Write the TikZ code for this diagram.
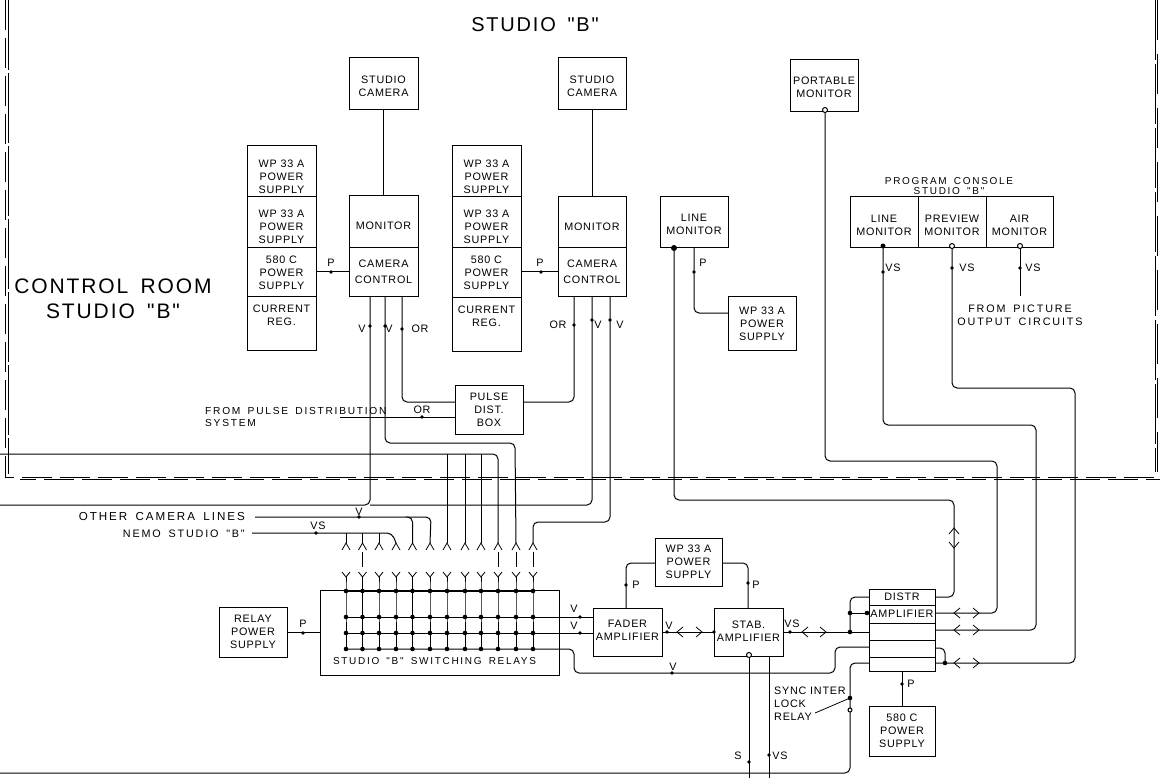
\documentclass[tikz,border=0pt]{standalone}
\usepackage{fontspec}
\usetikzlibrary{calc}
\setmainfont{Liberation Sans}[LetterSpace=7,Ligatures=TeXOff]
\newfontfamily\widefont{Liberation Sans}[LetterSpace=17,WordSpace=1.6,Ligatures=TeXOff]
\newfontfamily\bigfont{Liberation Sans}[LetterSpace=9,WordSpace=1.6,Ligatures=TeXOff]
\newcommand\bx[6]{\node[box,minimum width={#4-#2},minimum height={#5-#3}] (#1) at ({(#2+#4)/2},{(#3+#5)/2}) {#6};}
\newcommand\bxt[7]{\node[box,minimum width={#4-#2},minimum height={#5-#3}] (#1) at ({(#2+#4)/2},{(#3+#5)/2}) {};
  \node[lab,align=center] (#1t) at ([yshift=-#6pt]#1.center) {#7};}
\newcommand\mk[2]{\fill (#1,#2) circle (1.9);}
\newcommand\hplug[3]{\draw[thin wire] (#1+6,#3-5) -- (#1,#3) -- (#1+6,#3+5) (#2-6,#3-5) -- (#2,#3) -- (#2-6,#3+5);}
\newcommand\vplug[3]{\draw[thin wire] (#3-5,#1+6) -- (#3,#1) -- (#3+5,#1+6) (#3-5,#2-6) -- (#3,#2) -- (#3+5,#2-6);}
\tikzset{
  box/.style={draw,line width=1pt,inner sep=0pt,outer sep=0pt,align=center,font=\fontsize{10.8}{12.8}\selectfont},
  wire/.style={line width=1pt,rounded corners=5pt},
  thin wire/.style={line width=.8pt},
  frame/.style={line width=1pt,dash pattern=on 30pt off 8pt},
  lab/.style={inner sep=0pt,font=\fontsize{10.8}{12.8}\selectfont,align=left},
  widelab/.style={lab,font=\widefont\fontsize{10.8}{12.8}\selectfont},
  big/.style={inner sep=0pt,font=\bigfont\fontsize{20}{25}\selectfont,align=center},
  open/.style={draw,fill=white,circle,line width=1pt,minimum size=5pt,inner sep=0pt}
}
\begin{document}
\begin{tikzpicture}[x=1pt,y=-1pt]
\useasboundingbox (0,0) rectangle (1160,778);
% frame
\coordinate (fa) at (5,0); \coordinate (fb) at (5,477); \coordinate (fc) at (1160,477);
\coordinate (fa2) at (8,0); \coordinate (fb2) at (8,474);
\coordinate (fd) at (1155,0); \coordinate (fe) at (1155,472); \coordinate (fd2) at (1157,0); \coordinate (fe2) at (1157,476);
\coordinate (ff) at (20,479); \coordinate (fg) at (1160,479);
\draw[frame] (fa) -- (fb) -- (fc);
\draw[frame,dash phase=14pt] (ff) -- (fg);
\draw[frame,dash pattern=on 70pt off 3pt] (fa2) -- (fb2);
\draw[frame,dash pattern=on 60pt off 4pt] (fd) -- (fe);
\draw[frame,dash pattern=on 40pt off 14pt] (fd2) -- (fe2);
% titles
\node[big] (t1) at (535,25) {STUDIO "B"};
\node[big,font=\bigfont\fontsize{21}{25}\selectfont] (t2) at (113,299) {CONTROL ROOM\\STUDIO "B"};
% boxes
\bxt{cam1}{349}{58}{418}{110}{2}{STUDIO\\CAMERA}
\bxt{cam2}{558}{58}{626}{110}{2}{STUDIO\\CAMERA}
\bxt{port}{790}{60}{858}{112}{1}{PORTABLE\\MONITOR}
\bxt{a1}{247}{146}{316}{197}{5.5}{WP 33 A\\POWER\\SUPPLY}
\bxt{a2}{247}{197}{316}{248}{4.5}{WP 33 A\\POWER\\SUPPLY}
\bxt{a3}{247}{248}{316}{297}{0}{580 C\\POWER\\SUPPLY}
\bxt{a4}{247}{297}{316}{350}{-8}{CURRENT\\REG.}
\bxt{b1}{452}{146}{521}{197}{5.5}{WP 33 A\\POWER\\SUPPLY}
\bxt{b2}{452}{197}{521}{248}{4.5}{WP 33 A\\POWER\\SUPPLY}
\bxt{b3}{452}{248}{521}{298}{0}{580 C\\POWER\\SUPPLY}
\bxt{b4}{452}{298}{521}{351}{-8}{CURRENT\\REG.}
\bxt{mon1}{349}{196}{418}{248}{4}{MONITOR}
\bxt{cc1}{349}{248}{418}{297}{-1}{CAMERA\\[3.5pt]CONTROL}
\bxt{mon2}{558}{197}{626}{248}{4}{MONITOR}
\bxt{cc2}{558}{248}{626}{297}{-1}{CAMERA\\[3.5pt]CONTROL}
\bxt{lmon}{660}{197}{728}{248}{2}{LINE\\MONITOR}
\bx{wpl}{728}{297}{796}{350}{WP 33 A\\POWER\\SUPPLY}
\bxt{pc1}{850}{197}{918}{248}{3}{LINE\\MONITOR}
\bxt{pc2}{918}{197}{986}{248}{3}{PREVIEW\\MONITOR}
\bxt{pc3}{986}{197}{1053}{248}{3}{AIR\\MONITOR}
\bx{pulse}{455}{385}{523}{434}{PULSE\\DIST.\\BOX}
\bx{relay}{219}{607}{287}{657}{RELAY\\POWER\\SUPPLY}
\bx{sw}{320}{590}{559}{675}{}
\node[widelab,align=center,font=\widefont\fontsize{10}{12}\selectfont] (swl) at (434.5,661) {STUDIO "B" SWITCHING RELAYS};
\bx{wpf}{655}{538}{722}{586}{WP 33 A\\POWER\\SUPPLY}
\bxt{fad}{593}{608}{662}{656}{-2}{FADER\\AMPLIFIER}
\bxt{stab}{714}{608}{783}{656}{-1}{STAB.\\AMPLIFIER}
\bx{d1}{869}{589}{935}{605}{DISTR}
\bx{d2}{869}{605}{935}{623}{AMPLIFIER}
\bx{d3}{869}{623}{935}{640}{}
\bx{d4}{869}{640}{935}{657}{}
\bx{d5}{869}{657}{935}{671}{}
\bx{p580}{869}{706}{935}{756}{580 C\\POWER\\SUPPLY}
% free labels
\node[widelab,align=center,font=\widefont\fontsize{10}{9.5}\selectfont] (pcl) at (949,186) {PROGRAM CONSOLE\\STUDIO "B"};
\node[widelab,align=center] (pic) at (1020,315) {FROM PICTURE\\OUTPUT CIRCUITS};
\node[widelab,anchor=west,font=\widefont\fontsize{10.2}{12.5}\selectfont] (fp) at (205,417) {FROM PULSE DISTRIBUTION\\SYSTEM};
\node[widelab,anchor=east,font=\widefont\fontsize{11.6}{13}\selectfont] (oc) at (245,517) {OTHER CAMERA LINES};
\node[widelab,anchor=east] (nm) at (245,534) {NEMO STUDIO "B"};
\node[lab,anchor=west] (si) at (774,704) {SYNC INTER\\LOCK\\RELAY};
% simple labels
\foreach \n/\x/\y/\t in {l1/331/263/P,l2/540/263/P,l3/362/329/V,l4/389/329/V,l5/420/329/OR,l6/558/325/OR,l7/598/325/V,l8/620/325/V,
 l9/703/263/P,l10/893/268/VS,l11/967/268/VS,l12/1033/268/VS,l13/422/410/OR,l14/359/512/V,l15/318/526/VS,l16/303/624/P,
 l17/574/609/V,l18/574/626/V,l19/669/626/V,l20/636/585/P,l21/756/585/P,l22/792/624/VS,l23/673/667/V,l24/911/684/P,l25/738/756/S,l26/780/756/VS}
 {\node[lab] (\n) at (\x,\y) {\t};}
% named ports
\coordinate (v1a) at (370,297); \coordinate (v1b) at (385,297); \coordinate (or1) at (402,297);
\coordinate (or2) at (574,297); \coordinate (v2a) at (592,297); \coordinate (v2b) at (610,297);
\coordinate (fpa) at (340,417);
\coordinate (lm1) at (674,248); \coordinate (lm2) at (694,248);
\coordinate (pm1) at (883,248); \coordinate (pm2) at (952,248); \coordinate (pm3) at (1020,248);
\coordinate (pm3e) at (1020,296);
\coordinate (pt) at (825,112);
\coordinate (left1) at (0,505); \coordinate (left2) at (0,454); \coordinate (left3) at (0,773);
\coordinate (oce) at (255,517); \coordinate (nme) at (252,533);
% jacks
\foreach \i/\x in {1/346,2/362.5,3/379,4/396,5/412.5,6/430,7/447,8/465,9/481,10/498,11/516,12/533}{
  \coordinate (ju\i) at (\x,543);
  \coordinate (jl\i) at (\x,577);
  \coordinate (g\i) at (\x,591);
  \draw[thin wire] (\x-4,550) -- (ju\i) -- (\x+4,550);
  \draw[thin wire] (\x-4,572) -- (jl\i) -- (\x+4,572);
  \draw[wire] (jl\i) -- (g\i) -- (\x,649);
  \foreach \yy in {591,617,633,649}{\fill (\x,\yy) circle (2.3);}
}
\foreach \i in {2,10,11,12}{\draw[thin wire] ($(ju\i)+(0,9)$) -- ($(jl\i)+(0,-10)$);}
% matrix rows
\coordinate (r1) at (346,617); \coordinate (r2) at (346,633); \coordinate (r3) at (346,649);
\draw[wire] (r1) -- (fad.west |- r1);
\draw[wire] (r2) -- (fad.west |- r2);
\draw[wire] (346,591) -- (533,591);
\draw[wire] (r3) -- (574,649) -- (574,673) -- (835,673) -- (835,647) -- (d4.west |- 0,647);
% connectors top part
\draw[wire] (cam1) -- (mon1);
\draw[wire] (cam2) -- (mon2);
\draw[wire] (a3.east |- 0,272) -- (cc1.west |- 0,272);
\draw[wire] (b3.east |- 0,272) -- (cc2.west |- 0,272);
\mk{331}{272}\mk{541}{272}
\draw[wire] (or1) -- (402,402) -- (pulse.west |- 0,402);
\draw[wire] (or2) -- (574,402) -- (pulse.east |- 0,402);
\draw[wire] (fpa) -- (pulse.west |- fpa);
\mk{402}{329}\mk{574}{325}\mk{592}{320}\mk{610}{320}\mk{370}{326}\mk{385}{326}\mk{422}{417}
\draw[wire] (v1a) -- (370,505) -- (left1);
\draw[wire] (v1b) -- (385,443) -- (515,443) -- (ju11);
\draw[wire] (v2a) -- (592,505) -- (370,505);
\draw[wire] (v2b) -- (610,522) -- (533,522) -- (ju12);
\draw[wire] (left2) -- (498,454) -- (ju10);
\foreach \i in {7,8,9}{\draw[wire,sharp corners] (ju\i |- left2) -- (ju\i);}
\draw[wire] (oce) -- (431,517) -- (ju6);
\draw[wire] (408,517) -- (412.5,517) -- (ju5);
\draw[wire] (nme) -- (392,533) -- (ju4);
\foreach \i in {1,2,3}{\draw[wire] (ju\i |- nme) -- (ju\i);}
\mk{359}{517}\mk{316}{533}
% line monitor etc
\draw[wire] (lm1) -- (674,500) -- (954,500) -- (954,597) -- (d1.east |- 0,597);
\vplug{528}{548}{954}
\fill (lm1) circle (3);
\draw[wire] (lm2) -- (694,313) -- (wpl.west |- 0,313);
\mk{694}{272}
\draw[wire] (pt) -- (825,461) -- (997,461) -- (997,613) -- (d2.east |- 0,613);
\hplug{954}{979}{613}
\draw[wire] (pm1) -- (883,425) -- (1036,425) -- (1036,630) -- (d3.east |- 0,630);
\hplug{954}{979}{630}
\draw[wire] (pm2) -- (952,388) -- (1075,388) -- (1075,663) -- (d5.east |- 0,663);
\draw[wire] (d4.east |- 0,648) -- (945,648) -- (945,663);
\hplug{954}{979}{663}
\fill (945,663) circle (2.3);
\draw[wire] (pm3) -- (pm3e);
\mk{883}{272}\mk{952}{268}\mk{1020}{268}
\node[open] (ol1) at (825,110) {};
\node[open] (ol2) at (952,246) {};
\node[open] (ol3) at (1020,246) {};
\fill (883,246) circle (2.5);
% amplifiers
\draw[wire] (wpf.west |- 0,563) -- (626,563) -- (626,608);
\draw[wire] (wpf.east |- 0,563) -- (748,563) -- (748,608);
\mk{626}{585}\mk{748}{583}
\draw[wire] (fad.east |- 0,632) -- (stab.west |- 0,632);
\hplug{677}{702}{632}
\mk{667}{632}\mk{714}{632}
\draw[wire] (stab.east |- 0,632) -- (d3.west |- 0,632);
\hplug{802}{826}{632}
\mk{790}{632}
\draw[wire] (850,632) -- (850,597) -- (d1.west |- 0,597);
\draw[wire] (850,613) -- (d2.west |- 0,613);
\fill (850,613) circle (2.3); \fill (867,613) circle (2.3); \fill (850,632) circle (2.3);
\draw[wire] (d5.west |- 0,663) -- (850,663) -- (850,773) -- (left3);
\fill (850,698) circle (2.3);
\node[open,minimum size=4pt] (sw1) at (850,710) {};
\draw[thin wire] (815,713) -- (850,698);
\draw[wire] (d5) -- (p580);
\mk{902}{684}
\coordinate (s1) at (749,655); \coordinate (s2) at (749,778); \coordinate (s3) at (769,656); \coordinate (s4) at (769,778);
\draw[wire] (s1) -- (s2); \draw[wire] (s3) -- (s4);
\node[open] (sc) at (s1) {};
\mk{749}{762}\mk{769}{755}
\draw[wire] (relay) -- (sw.west |- relay);
\mk{303}{633}\mk{580}{617}\mk{580}{633}\mk{672}{673}
\end{tikzpicture}
\end{document}
